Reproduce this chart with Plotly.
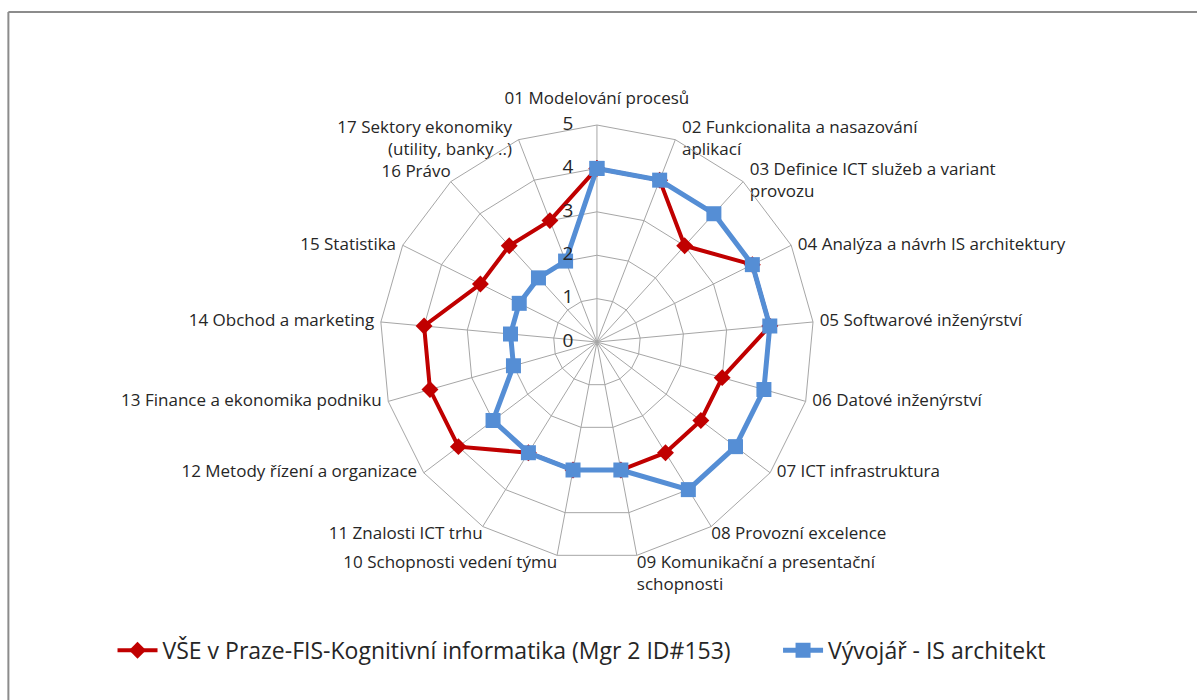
import plotly.graph_objects as go

categories = [
    "01 Modelování procesů",
    "02 Funkcionalita a nasazování<br>aplikací",
    "03 Definice ICT služeb a variant<br>provozu",
    "04 Analýza a návrh IS architektury",
    "05 Softwarové inženýrství",
    "06 Datové inženýrství",
    "07 ICT infrastruktura",
    "08 Provozní excelence",
    "09 Komunikační a presentační<br>schopnosti",
    "10 Schopnosti vedení týmu",
    "11 Znalosti ICT trhu",
    "12 Metody řízení a organizace",
    "13 Finance a ekonomika podniku",
    "14 Obchod a marketing",
    "15 Statistika",
    "16 Právo",
    "17 Sektory ekonomiky<br>(utility, banky ..)",
]

vse_name = "VŠE v Praze-FIS-Kognitivní informatika (Mgr 2 ID#153)"
vse_values = [4, 4, 3, 4, 4, 3, 3, 3, 3, 3, 3, 4, 4, 4, 3, 3, 3]

arch_name = "Vývojář - IS architekt"
arch_values = [4, 4, 4, 4, 4, 4, 4, 4, 3, 3, 3, 3, 2, 2, 2, 2, 2]

radial_ticks = [0, 1, 2, 3, 4, 5]

RED = "#C00000"
BLUE = "#558ED5"
GRID = "#A6A6A6"
TEXT = "#262626"
FONT = "'Open Sans', Lato, sans-serif"

R_MIN, R_MAX = radial_ticks[0], radial_ticks[-1]

# category labels hang off the outer ring; an invisible marker of the given
# size pushes each text away from its spoke end
label_layout = {
    0: ("top center", 26),
    7: ("bottom right", 0),
    8: ("bottom right", 0),
    9: ("bottom left", 0),
    10: ("bottom left", 0),
    15: ("top left", 0),
}
n = len(categories)
label_pos, label_pad = [], []
for i in range(n):
    default = ("middle right", 9) if i <= n // 2 else ("middle left", 9)
    pos, pad = label_layout.get(i, default)
    label_pos.append(pos)
    label_pad.append(pad)


def closed(values):
    return list(values) + [values[0]]


fig = go.Figure()

# category labels
fig.add_trace(go.Scatterpolar(
    r=[R_MAX] * n,
    theta=categories,
    text=categories,
    mode="markers+text",
    marker=dict(size=label_pad, opacity=0),
    textposition=label_pos,
    textfont=dict(size=17, color=TEXT, family=FONT),
    showlegend=False,
    hoverinfo="skip",
    cliponaxis=False,
))

fig.add_trace(go.Scatterpolar(
    r=closed(vse_values),
    theta=closed(categories),
    name=vse_name,
    mode="lines+markers",
    line=dict(color=RED, width=4),
    marker=dict(symbol="diamond", size=13, color=RED),
    legend="legend",
))
fig.add_trace(go.Scatterpolar(
    r=closed(arch_values),
    theta=closed(categories),
    name=arch_name,
    mode="lines+markers",
    line=dict(color=BLUE, width=5),
    marker=dict(symbol="square", size=15, color=BLUE),
    legend="legend2",
))

# radial scale labels, left of the first spoke and above the series
# (a point exactly at the centre is dropped by the polar layer, so nudge
# it off by a hair)
fig.add_trace(go.Scatterpolar(
    r=[max(v, R_MIN + 1e-3) for v in radial_ticks],
    theta=[categories[0]] * len(radial_ticks),
    text=[str(v) for v in radial_ticks],
    mode="markers+text",
    marker=dict(size=36, opacity=0),
    textposition="middle left",
    textfont=dict(size=19, color=TEXT, family=FONT),
    showlegend=False,
    hoverinfo="skip",
    cliponaxis=False,
))

legend_style = dict(
    orientation="h",
    y=0.071,
    yanchor="middle",
    xanchor="left",
    font=dict(size=23, color=TEXT, family=FONT),
    itemwidth=40,
    bgcolor="rgba(0,0,0,0)",
)

fig.update_layout(
    width=1197,
    height=700,
    margin=dict(l=0, r=0, t=0, b=0),
    paper_bgcolor="white",
    plot_bgcolor="white",
    font=dict(family=FONT, color=TEXT),
    polar=dict(
        domain=dict(x=[0.3174, 0.6800], y=[0.2014, 0.8214]),
        gridshape="linear",
        bgcolor="white",
        radialaxis=dict(
            range=[R_MIN, R_MAX],
            tickvals=radial_ticks,
            angle=90,
            showticklabels=False,
            showline=False,
            showgrid=True,
            gridcolor=GRID,
            gridwidth=1,
            ticks="",
        ),
        angularaxis=dict(
            direction="clockwise",
            rotation=90,
            showline=True,
            linecolor=GRID,
            linewidth=1,
            gridcolor=GRID,
            gridwidth=1,
            ticks="",
            showticklabels=False,
        ),
    ),
    legend=dict(x=0.094, **legend_style),
    legend2=dict(x=0.650, **legend_style),
    shapes=[
        dict(type="line", xref="paper", yref="paper", x0=0.007, x1=1.0,
             y0=0.983, y1=0.983, line=dict(color="#8C8C8C", width=2)),
        dict(type="line", xref="paper", yref="paper", x0=0.007, x1=0.007,
             y0=0.0, y1=0.983, line=dict(color="#8C8C8C", width=2)),
    ],
)

fig.write_html("out.html")
